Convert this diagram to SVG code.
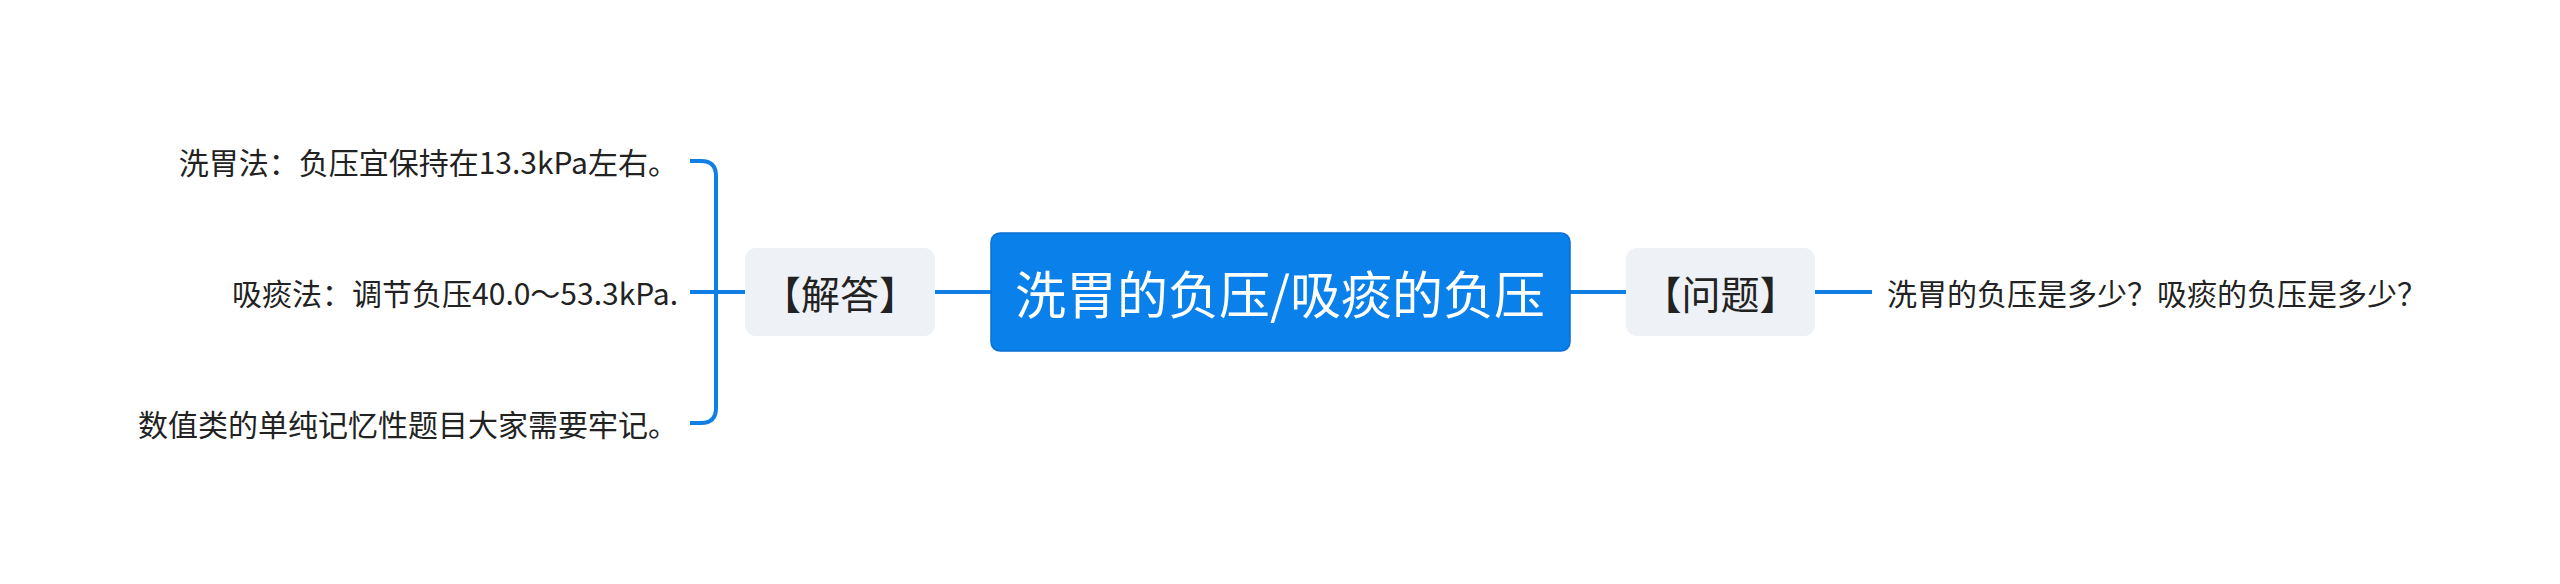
<svg xmlns="http://www.w3.org/2000/svg" width="2560" height="584" viewBox="0 0 2560 584">
<style>
.conn{fill:none;stroke:#0f7fe6;stroke-width:4;stroke-linecap:butt}
.sub{fill:#eef1f5}
.t{font-family:"Microsoft YaHei","Noto Sans CJK SC","Noto Sans",sans-serif;dominant-baseline:central}
.leaf{font-size:30px;fill:#222}
.subt{font-size:39px;fill:#222;text-anchor:middle}
.root{font-size:51px;fill:#fff;text-anchor:middle}
</style>
<rect width="2560" height="584" fill="#fff"/>
<g id="connectors">
<path class="conn" d="M935,292 H991"/>
<path class="conn" d="M1570,292 H1626"/>
<path class="conn" d="M1815,292 H1872"/>
<path class="conn" d="M745,292 H690"/>
<path class="conn" d="M690,161 H701 Q716,161 716,176 V408 Q716,423 701,423 H690"/>
</g>
<g id="root">
<rect x="991" y="233" width="579" height="118" rx="9" fill="#0a80eb" stroke="#0a6fd2" stroke-width="1.5"/>
<text class="t root" x="1280" y="292">洗胃的负压/吸痰的负压</text>
</g>
<g id="answer">
<rect class="sub" x="745" y="248" width="190" height="88" rx="11"/>
<text class="t subt" x="840" y="292">【解答】</text>
</g>
<g id="question">
<rect class="sub" x="1626" y="248" width="189" height="88" rx="11"/>
<text class="t subt" x="1720.5" y="292">【问题】</text>
</g>
<g id="question-text">
<text class="t leaf" x="1887" y="292">洗胃的负压是多少？吸痰的负压是多少？</text>
</g>
<g id="answer-1">
<text class="t leaf" x="678" y="161" text-anchor="end">洗胃法：负压宜保持在13.3kPa左右。</text>
</g>
<g id="answer-2">
<text class="t leaf" x="678" y="292" text-anchor="end">吸痰法：调节负压40.0～53.3kPa.</text>
</g>
<g id="answer-3">
<text class="t leaf" x="678" y="423" text-anchor="end">数值类的单纯记忆性题目大家需要牢记。</text>
</g>
</svg>
